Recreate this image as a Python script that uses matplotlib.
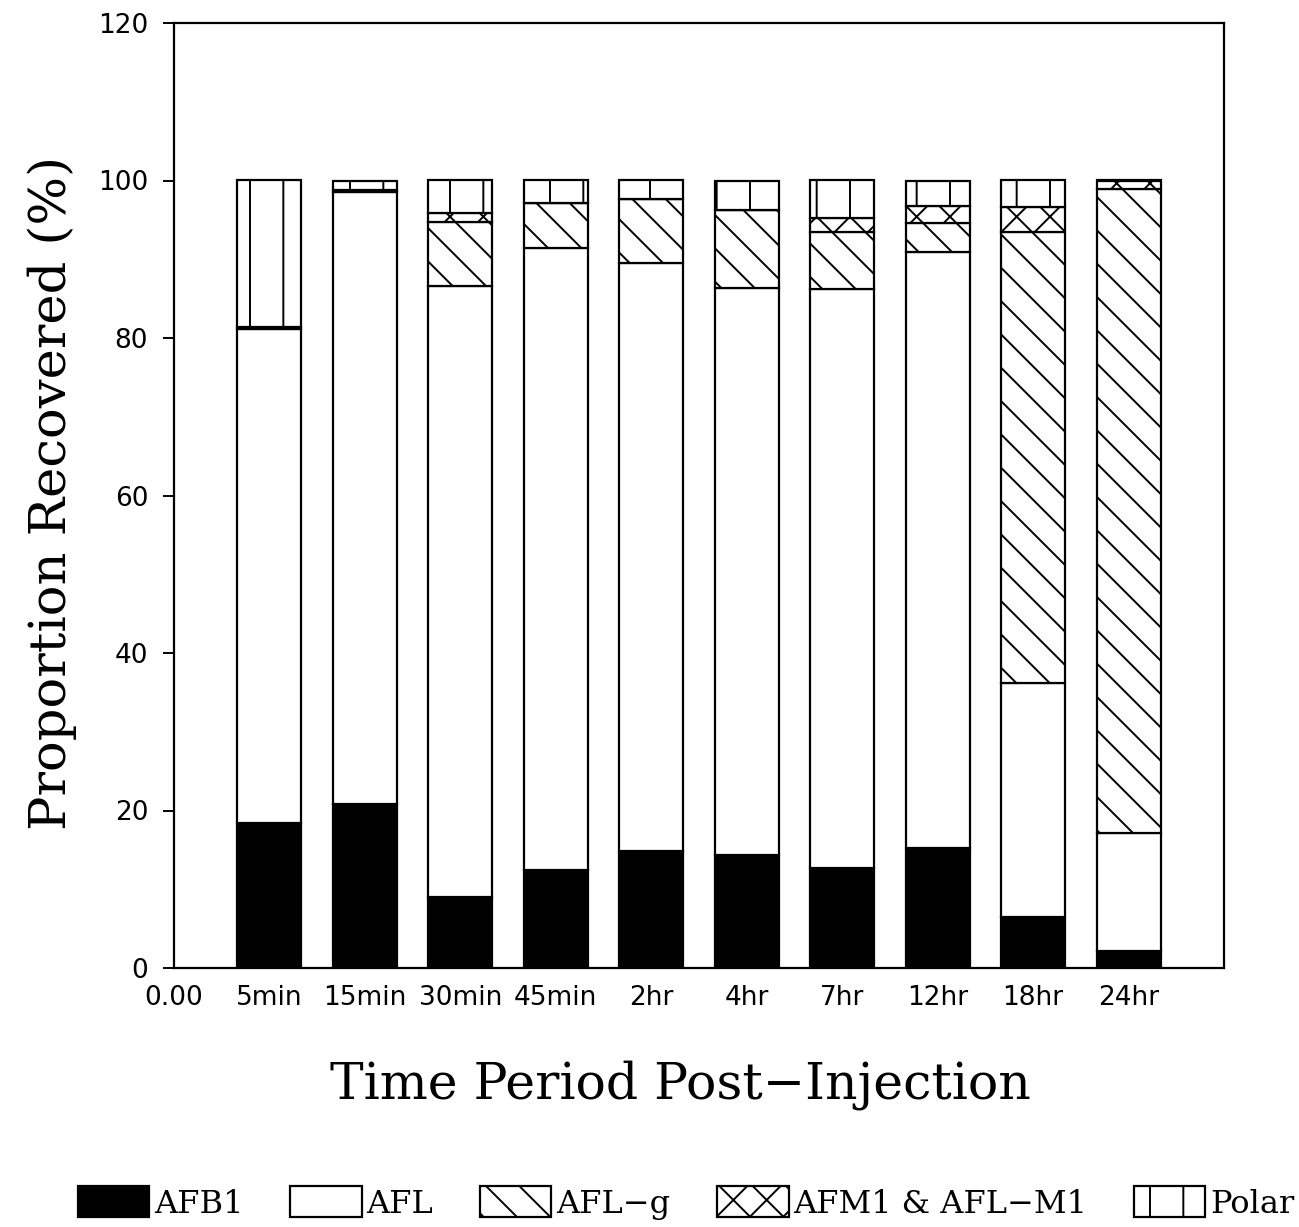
import matplotlib
matplotlib.use("Agg")
import matplotlib.pyplot as plt
import numpy as np

categories = ["5min", "15min", "30min", "45min", "2hr", "4hr", "7hr", "12hr", "18hr", "24hr"]
afb1 = [18.4, 20.8, 9.0, 12.5, 14.85, 14.3, 12.7, 15.3, 6.5, 2.1]
afl = [62.8, 77.8, 77.6, 78.9, 74.7, 72.1, 73.5, 75.6, 29.7, 15.1]
afl_g = [0.25, 0.2, 8.1, 5.8, 8.15, 9.9, 7.2, 3.7, 57.2, 81.7]
afm1 = [0.0, 0.0, 1.2, 0.0, 0.0, 0.0, 1.8, 2.2, 3.2, 1.1]
polar = [18.55, 1.2, 4.1, 2.8, 2.3, 3.7, 4.8, 3.2, 3.4, 0.0]

series_names = ["AFB1", "AFL", "AFL\u2212g", "AFM1 & AFL\u2212M1", "Polar"]
series = [afb1, afl, afl_g, afm1, polar]
yticks = [0, 20, 40, 60, 80, 100, 120]

plt.rcParams['hatch.linewidth'] = 0.7
dpi = 200
fig = plt.figure(figsize=(1299 / dpi, 1227 / dpi), dpi=dpi)
ax = fig.add_axes([174 / 1299, 1 - 968 / 1227, (1224 - 174) / 1299, (968 - 23) / 1227])

x = np.arange(1, len(categories) + 1)
styles = [dict(facecolor="black", hatch=None),
          dict(facecolor="white", hatch=None),
          dict(facecolor="white", hatch="\\\\"),
          dict(facecolor="white", hatch="xx"),
          dict(facecolor="white", hatch="|")]
bottom = np.zeros(len(categories))
handles = []
for name, vals, st in zip(series_names, series, styles):
    vals = np.array(vals)
    b = ax.bar(x, vals, width=0.67, bottom=bottom, facecolor=st["facecolor"],
               edgecolor="black", linewidth=0.8, hatch=st["hatch"], label=name)
    handles.append(b)
    bottom += vals

ax.set_xlim(0, 11)
ax.set_ylim(0, 120)
ax.set_xticks([0] + list(x))
ax.set_xticklabels(["0.00"] + categories, fontsize=9.5, family="DejaVu Sans")
ax.tick_params(axis="x", length=0, pad=6)
ax.set_yticks(yticks)
ax.set_yticklabels([str(v) for v in yticks], fontsize=9.5, family="DejaVu Sans")
ax.tick_params(axis="y", direction="out", length=3.8, width=0.7, pad=5.5)
for s in ax.spines.values():
    s.set_linewidth(0.8)

fig.text(680 / 1299, 1 - 1085 / 1227, "Time Period Post\u2212Injection",
         ha="center", va="center", fontsize=18.2, family="DejaVu Serif")
fig.text(52 / 1299, 1 - 493 / 1227, "Proportion Recovered (%)", rotation=90,
         ha="center", va="center", fontsize=18.4, family="DejaVu Serif")

leg = fig.legend(handles=handles, labels=series_names, loc="center",
                 bbox_to_anchor=(686 / 1299, 1 - 1203 / 1227), ncol=5, frameon=False,
                 prop={"family": "DejaVu Serif", "size": 11.5},
                 handlelength=2.25, handleheight=1.1, handletextpad=0.15,
                 columnspacing=1.45)

fig.savefig("out.png", dpi=dpi)
